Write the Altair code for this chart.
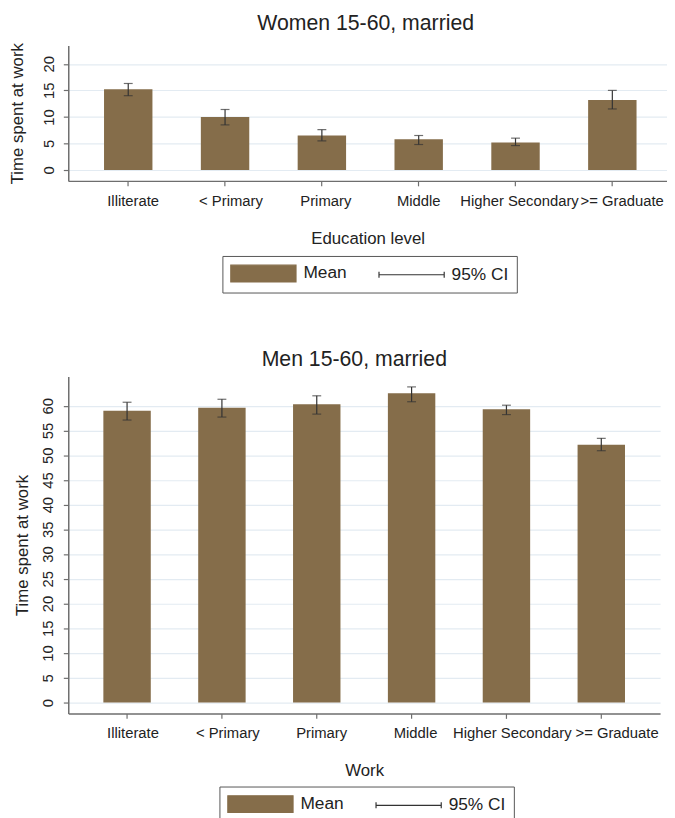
import altair as alt
import pandas as pd

# ---- data ----
education = ["Illiterate", "< Primary", "Primary", "Middle", "Higher Secondary", ">= Graduate"]

women_mean = [15.2, 10.0, 6.5, 5.8, 5.2, 13.2]
women_lo = [14.0, 8.5, 5.5, 4.8, 4.6, 11.5]
women_hi = [16.3, 11.4, 7.6, 6.5, 6.0, 15.0]

men_mean = [59.0, 59.6, 60.3, 62.5, 59.3, 52.1]
men_lo = [57.1, 57.7, 58.3, 60.8, 58.2, 50.9]
men_hi = [60.7, 61.3, 62.0, 63.8, 60.1, 53.4]

women_ticks = [0, 5, 10, 15, 20]
men_ticks = [0, 5, 10, 15, 20, 25, 30, 35, 40, 45, 50, 55, 60]

legend_series = ["Mean", "95% CI"]

# label nudges seen in the reference (labels sit slightly right of ticks)
women_label_shift = [5, 6, 4, 0, 4, 10]
men_label_shift = [6, 6, 5, 4, 6, 16]

# ---- styles ----
BROWN = "#856d4a"
DARK = "#333333"
GRID = "#e3ebf2"
AXIS = "#6e6e6e"
TEXT = "#222222"
FONT = "Liberation Sans"

RECT_PATH = "M-3.882,-1H3.882V1H-3.882Z"
CI_PATH = "M-3.882,-0.353V0.353M-3.882,0H3.882M3.882,-0.353V0.353"


def shift_condition(shifts):
    conds = [{"test": f"datum.value == '{c}'", "value": s}
             for c, s in zip(education, shifts) if s != 0]
    return {"condition": conds, "value": 0}


def panel(title, mean, lo, hi, ydomain, yticks, xtitle, width, height,
          ytitle_pad, ylabel_pad, title_dx, title_dy, pad_outer, align,
          shifts, leg_x, leg_y):
    df = pd.DataFrame({"edu": education, "mean": mean, "lo": lo, "hi": hi})
    x = alt.X(
        "edu:N", sort=education, title=xtitle,
        scale=alt.Scale(paddingInner=0.5, paddingOuter=pad_outer, align=align),
        axis=alt.Axis(labelAngle=0, bandPosition=0.5, grid=False, tickSize=5,
                      labelFontSize=15, labelPadding=7.5, titleFontSize=17,
                      titlePadding=22.5, titleFontWeight="normal",
                      labelOverlap=False,
                      labelOffset=shift_condition(shifts)),
    )
    yscale = alt.Scale(domain=ydomain, nice=False, zero=False)

    def yaxis():
        return alt.Axis(values=yticks, labelAngle=-90, labelAlign="center",
                        labelBaseline="bottom", labelFontSize=15,
                        labelOverlap=False, labelFlush=False,
                        labelPadding=ylabel_pad, tickSize=5, grid=True,
                        gridColor=GRID, gridWidth=1.2, titleFontSize=17,
                        titleFontWeight="normal", titlePadding=ytitle_pad)

    ytitle = "Time spent at work"
    base = alt.Chart(df).encode(x=x)
    bars = base.mark_bar(color=BROWN).encode(
        y=alt.Y("mean:Q", scale=yscale, axis=yaxis(), title=ytitle),
        y2=alt.datum(0),
    )
    ci = base.mark_rule(color=DARK, strokeWidth=1.2).encode(
        y=alt.Y("lo:Q", scale=yscale, axis=yaxis(), title=ytitle), y2="hi:Q")
    cap_lo = base.mark_tick(color=DARK, orient="horizontal", size=9,
                            thickness=1.2).encode(
        y=alt.Y("lo:Q", scale=yscale, axis=yaxis(), title=ytitle))
    cap_hi = base.mark_tick(color=DARK, orient="horizontal", size=9,
                            thickness=1.2).encode(
        y=alt.Y("hi:Q", scale=yscale, axis=yaxis(), title=ytitle))

    leg_props = dict(
        title=None, orient="none", legendX=leg_x, legendY=leg_y,
        direction="horizontal",
        strokeColor="#555555", padding=8,
        symbolSize=289, symbolStrokeWidth=1.2, symbolOffset=24,
        symbolOpacity=1,
        labelOffset=31, labelFontSize=17.5, labelFont=FONT, labelColor=TEXT,
        columnPadding=30,
    )
    leg_df = pd.DataFrame({"series": legend_series})
    leg = alt.Chart(leg_df).mark_point(filled=True, size=0, opacity=1).encode(
        fill=alt.Fill("series:N", sort=legend_series,
                      scale=alt.Scale(domain=legend_series, range=[BROWN, "transparent"]),
                      legend=alt.Legend(**leg_props)),
        stroke=alt.Stroke("series:N", sort=legend_series,
                          scale=alt.Scale(domain=legend_series, range=[BROWN, DARK]),
                          legend=alt.Legend(**leg_props)),
        shape=alt.Shape("series:N", sort=legend_series,
                        scale=alt.Scale(domain=legend_series, range=[RECT_PATH, CI_PATH]),
                        legend=alt.Legend(**leg_props)),
    )
    return alt.layer(bars, ci, cap_lo, cap_hi, leg).properties(
        width=width, height=height,
        title=alt.TitleParams(title, dx=title_dx, dy=title_dy),
    )


top = panel("Women 15-60, married", women_mean, women_lo, women_hi,
            [-2.05, 23.45], women_ticks, "Education level", 606, 137,
            15.5, 6.5, -2, -2, 0.342, 0.54, women_label_shift, 156, 213)
bottom = panel("Men 15-60, married", men_mean, men_lo, men_hi,
               [-2.2, 65.9], men_ticks, "Work", 599, 341,
               9.5, 7.5, -10, 0, 0.37, 0.5, men_label_shift, 153, 415)

chart = alt.vconcat(top, bottom, spacing=56).resolve_scale(
    x="independent", y="independent",
    fill="independent", stroke="independent", shape="independent",
).properties(
    padding={"left": 0, "top": 0, "right": 0, "bottom": 0},
).configure(
    font=FONT,
).configure_view(
    stroke=None,
).configure_axis(
    domainColor=AXIS, domainWidth=1.5, tickColor=AXIS, tickWidth=1.2,
    labelColor=TEXT, titleColor=TEXT, labelFont=FONT, titleFont=FONT,
).configure_title(
    fontSize=21.5, fontWeight="normal", color=TEXT, font=FONT, offset=6,
    anchor="middle",
)

chart.save("out.html", embed_options={"renderer": "svg", "actions": False})
